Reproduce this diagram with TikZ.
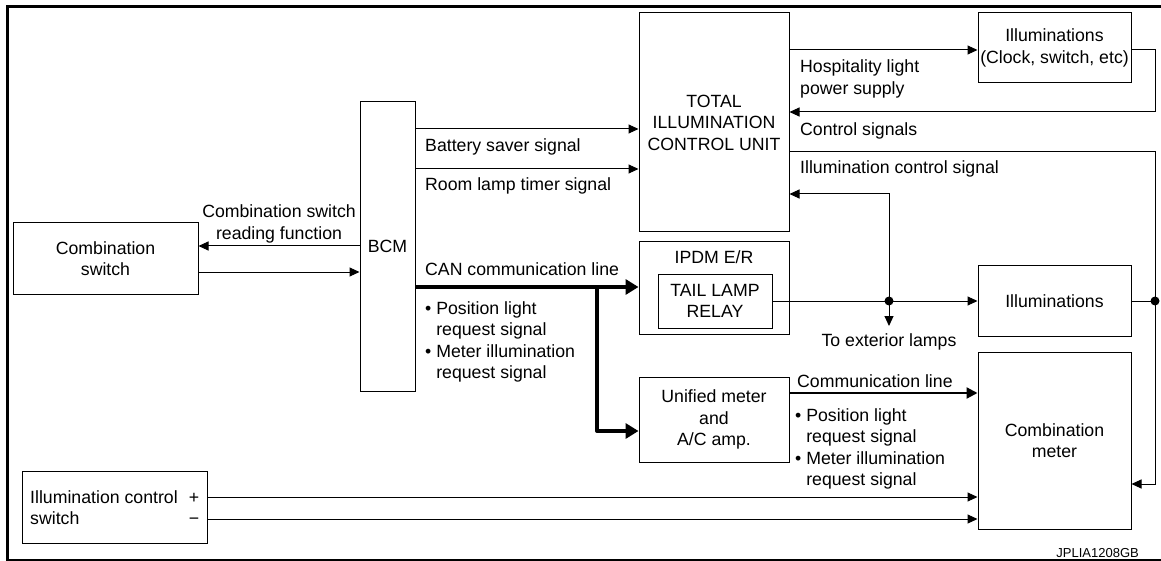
\documentclass[tikz,border=0pt]{standalone}
\usepackage{fontspec}
\setmainfont{Liberation Sans}
\usetikzlibrary{arrows.meta}
\begin{document}
\begin{tikzpicture}[x=1pt,y=-1pt,
  every node/.style={font=\fontsize{17.7}{21.5}\selectfont},
  box/.style={draw,line width=1pt,inner sep=1pt,align=center},
  lbl/.style={anchor=base west,inner sep=0pt,align=left},
  clbl/.style={anchor=base,inner sep=0pt,align=center},
  conn/.style={line width=1pt,-{Triangle[length=10pt,width=9pt]}},
  wire/.style={line width=1pt},
  bus/.style={line width=4pt,line join=round,-{Triangle[length=13pt,width=15pt]}},
  comm/.style={line width=2.2pt,-{Triangle[length=11pt,width=11pt]}},
  dot/.style={circle,fill,inner sep=0pt,minimum size=9pt},
]
\useasboundingbox (0,0) rectangle (1161,561);
% frame
\draw[line width=3pt] (1161,6.5) -- (7.5,6.5) -- (7.5,561);
\draw[line width=1.2pt] (6,560) -- (1161,560);

% boxes
\node[box,minimum width=185pt,minimum height=71pt] (cs) at (105.5,258.5) {Combination\\switch};
\node[box,minimum width=55pt,minimum height=289pt] (bcm) at (387.5,246.5) {BCM};
\node[box,minimum width=150pt,minimum height=219pt] (ticu) at (714,122.5) {TOTAL\\ILLUMINATION\\CONTROL UNIT};
\node[box,minimum width=153pt,minimum height=70pt] (il1) at (1054.5,48) {Illuminations\\(Clock, switch, etc)};
\node[box,minimum width=150pt,minimum height=92pt] (ipdm) at (714,288) {};
\node[clbl] (ipdmlbl) at (714,264) {IPDM E/R};
\node[box,minimum width=114pt,minimum height=54pt] (relay) at (715,301) {TAIL LAMP\\RELAY};
\node[box,minimum width=150pt,minimum height=85pt] (um) at (714,419.5) {Unified meter\\and\\A/C amp.};
\node[box,minimum width=153pt,minimum height=70pt] (il2) at (1054.5,301) {Illuminations};
\node[box,minimum width=153pt,minimum height=177pt] (cm) at (1054.5,440.5) {Combination\\meter};
\node[box,minimum width=185pt,minimum height=72pt] (ics) at (114.5,507) {};
\node[lbl] (icst) at (30,524.5) {Illumination control\\switch};
\node[clbl] (pm) at (194,524.5) {+\\−};

% junctions
\node[dot] (d1) at (889,301) {};
\node[dot] (d2) at (1155,301) {};
\coordinate (br) at (597,287);

% connectors
\draw[conn] (bcm.west |- 0,246) -- (cs.east |- 0,246);
\draw[conn] (cs.east |- 0,272) -- (bcm.west |- 0,272);
\draw[conn] (bcm.east |- 0,129) -- (ticu.west |- 0,129);
\draw[conn] (bcm.east |- 0,169) -- (ticu.west |- 0,169);
\draw[bus] (bcm.east |- 0,287) -- (ipdm.west |- 0,287);
\draw[bus] (br) -- (597,431) -- (um.west |- 0,431);
\draw[conn] (ticu.east |- 0,50) -- (il1.west |- 0,50);
\draw[conn] (il1.east |- 0,50) -- (1155,50) -- (1155,112) -- (ticu.east |- 0,112);
\draw[wire] (ticu.east |- 0,152) -- (1155,152) -- (d2.center);
\draw[conn] (d2.center) -- (1155,484) -- (cm.east |- 0,484);
\draw[wire] (il2.east) -- (d2.center);
\draw[wire] (relay.east) -- (d1.center);
\draw[conn] (d1.center) -- (il2.west);
\draw[conn] (d1.center) -- (889,194) -- (ticu.east |- 0,194);
\draw[conn] (d1.center) -- (889,326);
\draw[comm] (um.east |- 0,393) -- (cm.west |- 0,393);
\draw[conn] (ics.east |- 0,497) -- (cm.west |- 0,497);
\draw[conn] (ics.east |- 0,519) -- (cm.west |- 0,519);

% labels
\node[clbl] (l1) at (279,239.5) {Combination switch\\reading function};
\node[lbl] (l2) at (425,152) {Battery saver signal};
\node[lbl] (l3) at (425,191) {Room lamp timer signal};
\node[lbl] (l4) at (800,94.5) {Hospitality light\\power supply};
\node[lbl] (l5) at (800,136) {Control signals};
\node[lbl] (l6) at (800,174) {Illumination control signal};
\node[lbl] (l7) at (425,276) {CAN communication line};
\node[lbl] (l8) at (425,378.5) {\textbullet\ Position light\\\hphantom{\textbullet\ }request signal\\\textbullet\ Meter illumination\\\hphantom{\textbullet\ }request signal};
\node[clbl] (l9) at (889,346) {To exterior lamps};
\node[lbl] (l10) at (797,387) {Communication line};
\node[lbl] (l11) at (795,485.5) {\textbullet\ Position light\\\hphantom{\textbullet\ }request signal\\\textbullet\ Meter illumination\\\hphantom{\textbullet\ }request signal};
\node[anchor=base east,inner sep=0pt,font=\fontsize{13}{15}\selectfont] (code) at (1139,557) {JPLIA1208GB};
\end{tikzpicture}
\end{document}
